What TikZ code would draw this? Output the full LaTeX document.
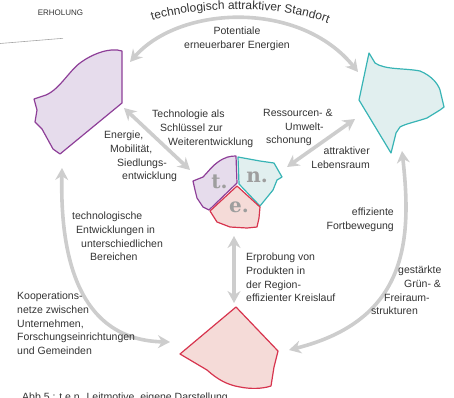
\documentclass[tikz,border=0pt]{standalone}
\usepackage{fontspec}
\setmainfont{Liberation Sans}
\newfontfamily\slabfont{DejaVu Serif}
\usetikzlibrary{arrows.meta,decorations.text}
\definecolor{tline}{HTML}{8E3F98}
\definecolor{tfill}{HTML}{E6DCEC}
\definecolor{nline}{HTML}{38B4B5}
\definecolor{nfill}{HTML}{E1EFEF}
\definecolor{eline}{HTML}{D7344E}
\definecolor{efill}{HTML}{F5DBD8}
\definecolor{loopgray}{HTML}{CDCDCD}
\definecolor{txtgray}{HTML}{333333}
\definecolor{lettergray}{HTML}{9E9E9E}

\begin{document}
\begin{tikzpicture}[x=1pt,y=-1pt,
		tarea/.style={draw=tline,fill=tfill,line width=1.2pt,line join=round},
		narea/.style={draw=nline,fill=nfill,line width=1.2pt,line join=round},
		earea/.style={draw=eline,fill=efill,line width=1.2pt,line join=round},
		loop/.style={draw=loopgray,line width=3.6pt,{Stealth[length=12pt,width=13pt,inset=4pt]}-{Stealth[length=12pt,width=13pt,inset=4pt]}},
		label/.style={font=\fontsize{10.5}{13.6}\selectfont,text=txtgray,inner sep=0pt,align=left},
		letter/.style={font=\slabfont\bfseries\fontsize{20}{20}\selectfont,text=lettergray,inner sep=0pt,anchor=base}]	% Areas, arrows and labels:
			\useasboundingbox (0,0) rectangle (454,397);
			\clip (0,0) rectangle (454,397);
			\draw[gray!70,line width=0.6pt] (0,43.5) -- (63,38.3);
			\path[tarea] (34,99) -- (43,96) .. controls (58,92) and (68,72) .. (80,63) .. controls (92,54) and (110,47) .. (122,51) -- (122,103) -- (60,154) -- (53,149) -- (42,129) -- (35,122) -- (37,110) -- cycle;
			\path[narea] (369,53) -- (375,63) .. controls (385,70) and (405,68) .. (420,71) .. controls (432,76) and (438,84) .. (440,90) -- (444,107) -- (440,110) -- (427,118) .. controls (415,122) and (405,124) .. (400,127) -- (396,133) -- (391,153) -- (359,100) -- cycle;
			\path[earea] (236,307) -- (278,351) -- (274,367) -- (271,386) .. controls (262,389) and (250,389) .. (240,387) .. controls (228,385) and (218,380) .. (207,370) -- (180,354) -- cycle;
			\path[tarea] (193,181) -- (203,177) .. controls (208,172) and (212,166) .. (218,162) .. controls (225,157) and (230,156) .. (236,156) -- (237,183) -- (209,210) -- (203,207) -- (197,198) -- (195,190) -- cycle;
			\path[narea] (238,157) -- (260,161) -- (274,163) -- (282,177) -- (277,180) -- (273,190) -- (260,206) -- (239,184) -- cycle;
			\path[earea] (237,186) -- (260,207) -- (259,218) -- (257,227) -- (247,228) -- (230,227) -- (217,222) -- (210,211) -- cycle;
			\node[letter] (tletter) at (219.5,188) {t.};
			\node[letter] (nletter) at (257,182) {n.};
			\node[letter] (eletter) at (239,212) {e.};
			\coordinate (topL) at (130,62);
			\coordinate (topR) at (358,72);
			\coordinate (diagL) at (124,108);
			\coordinate (diagLc) at (190,170);
			\coordinate (diagR) at (355,119);
			\coordinate (diagRc) at (287,167);
			\coordinate (vertC) at (234,236);
			\coordinate (vertB) at (234,303);
			\coordinate (leftT) at (62,168);
			\coordinate (leftB) at (170,342);
			\coordinate (rightT) at (402,151);
			\coordinate (rightB) at (289,350);
			\draw[loop] (topL) .. controls (180,5) and (300,0) .. (topR);
			\draw[loop] (diagL) -- (diagLc);
			\draw[loop] (diagR) -- (diagRc);
			\draw[loop] (vertC) -- (vertB);
			\draw[loop] (leftT) .. controls (60,260) and (80,340) .. (leftB);
			\draw[loop] (rightT) .. controls (412,240) and (408,320) .. (rightB);
			\path[decorate,decoration={text along path,text align=center,text format delimiters={|}{|},text={|\fontsize{12}{12}\selectfont\color{txtgray}|technologisch attraktiver Standort}}] (150,21) .. controls (200,6) and (280,4) .. (330,24);
			\node[label,font=\fontsize{8}{9}\selectfont,anchor=center] (erholung) at (60.5,13) {ERHOLUNG};
			\node[label,align=center,anchor=north] (potential) at (237,27) {Potentiale\\erneuerbarer Energien};
			\node[label,anchor=north west] (techkey) at (152,110) {Technologie als\\\hspace*{8pt}Schlüssel zur\\\hspace*{16pt}Weiterentwicklung};
			\node[label,anchor=north west] (energy) at (104,131) {Energie,\\\hspace*{6pt}Mobilität,\\\hspace*{13pt}Siedlungs-\\\hspace*{18pt}entwicklung};
			\node[label,anchor=north west] (resource) at (263,109) {Ressourcen- \&\\\hspace*{22pt}Umwelt-\\\hspace*{3pt}schonung};
			\node[label,align=right,anchor=north east] (living) at (370,147) {attraktiver\\Lebensraum};
			\node[label,align=right,anchor=north east] (mobility) at (394,208) {effiziente\\Fortbewegung};
			\node[label,anchor=north west] (testing) at (246,253) {Erprobung von\\Produkten in\\der Region-\\effizienter Kreislauf};
			\node[label,anchor=north west] (green) at (371,266) {\hspace*{27pt}gestärkte\\\hspace*{33pt}Grün- \&\\\hspace*{13pt}Freiraum-\\strukturen};
			\node[label,anchor=north west] (techdev) at (72,212) {technologische\\\hspace*{4pt}Entwicklungen in\\\hspace*{9pt}unterschiedlichen\\\hspace*{18pt}Bereichen};
			\node[label,anchor=north west] (network) at (17,292) {Kooperations-\\netze zwischen\\Unternehmen,\\Forschungseinrichtungen\\und Gemeinden};
			\node[label,anchor=north west] (caption) at (22,393) {Abb 5 : t.e.n. Leitmotive, eigene Darstellung};
		\end{tikzpicture}
\end{document}
